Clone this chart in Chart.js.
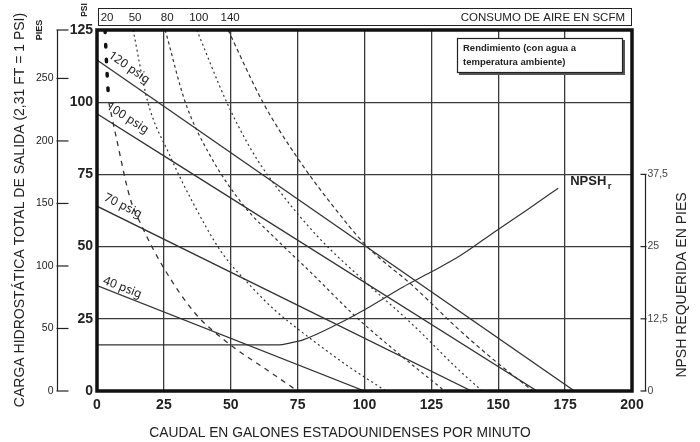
<!DOCTYPE html>
<html>
<head>
<meta charset="utf-8">
<script src="https://cdn.jsdelivr.net/npm/chart.js@4.4.1/dist/chart.umd.min.js"></script>
<style>
  html, body { margin: 0; padding: 0; background: #fff; }
  #wrap { width: 700px; height: 442px; }
</style>
</head>
<body>
<div id="wrap"><canvas id="chart" width="700" height="442"></canvas></div>
<script>
// axis ticks
const gpmTicks = [0, 25, 50, 75, 100, 125, 150, 175, 200];
const psiTicks = [0, 25, 50, 75, 100, 125];
const feetTicks = [0, 50, 100, 150, 200, 250];
const npshTicks = [0, 12.5, 25, 37.5];

// performance lines [gpm, psi]
const psigNames = ['120 psig', '100 psig', '70 psig', '40 psig'];
const psig120 = [[0, 114.6], [178.5, 0]];
const psig100 = [[0, 96], [164.5, 0]];
const psig70 = [[0, 64], [140, 0]];
const psig40 = [[0, 36.5], [100, 0]];

// air consumption curves [gpm, psi]
const scfmNames = ['20', '50', '80', '100', '140'];
const scfm20 = [[3, 125], [3.6, 113], [4.4, 100], [6.7, 90], [12.3, 67], [16.8, 57], [24.7, 43], [36.6, 27], [49, 16.6], [64, 7], [75, 0]];
const scfm50 = [[13.5, 125], [19, 100], [27, 82], [35.4, 66], [46.6, 48], [57.8, 36], [66.5, 28], [80, 18], [94, 8.5], [108, 0]];
const scfm80 = [[25.5, 125], [33, 100], [42, 82], [55, 64], [66.5, 53], [80, 41], [97, 25.5], [114, 12], [130, 0]];
const scfm100 = [[37.3, 125], [48.5, 100], [58, 83], [68, 69.5], [83, 53], [100, 38], [118, 23], [135, 7.5], [144, 0]];
const scfm140 = [[49, 125], [62, 100], [74, 82], [87, 65.5], [101, 50], [118, 36.5], [135, 21.5], [150, 9.5], [163, 0]];

// NPSH required [gpm, ft]
const npshCurve = [[0, 8], [68, 8], [72, 8.3], [77, 8.85], [89.6, 11.5], [102, 14.6], [114.4, 18], [124.5, 20.5], [135.7, 23.4], [149.4, 27.8], [160.6, 31.3], [172.4, 35.1]];

const FT_PER_PSI = 2.31;

// font check: condensed face installed?
const probe = document.createElement('canvas').getContext('2d');
probe.font = '20px monospace';
const wMono = probe.measureText('0123456789 ABC').width;
probe.font = '20px "Liberation Sans Narrow", monospace';
const hasNarrow = probe.measureText('0123456789 ABC').width !== wMono;
const SANS = '"Liberation Sans", Arial, Helvetica, sans-serif';
const NARROW = hasNarrow ? '"Liberation Sans Narrow", ' + SANS : SANS;
const INK = '#222';
const LINE = '#333';

const pts = arr => arr.map(([x, y]) => ({ x, y }));

function line(data, opts) {
  return Object.assign({
    data: pts(data),
    showLine: true,
    pointRadius: 0,
    borderColor: LINE,
    borderWidth: 1.3,
    fill: false,
    yAxisID: 'y',
    cubicInterpolationMode: 'monotone'
  }, opts);
}

const datasets = [
  line(psig120, {}),
  line(psig100, {}),
  line(psig70, {}),
  line(psig40, {}),
  line(scfm20.slice(0, 3), { borderWidth: 3.5, borderDash: [2.5, 12], borderCapStyle: 'round', borderColor: '#111' }),
  line(scfm20.slice(2), { borderDash: [5, 5] }),
  line(scfm50, { borderDash: [2, 3], borderWidth: 1.2 }),
  line(scfm80, { borderDash: [3, 3], borderWidth: 1.2 }),
  line(scfm100, { borderDash: [2, 3], borderWidth: 1.2 }),
  line(scfm140, { borderDash: [4, 3], borderWidth: 1.2 }),
  line(npshCurve, { yAxisID: 'yN', borderWidth: 1.2 })
];

const decor = {
  id: 'decor',
  afterDraw(chart) {
    const { ctx, chartArea: a, scales } = chart;
    const x = scales.x, y = scales.y, yFt = scales.yFt, yN = scales.yN;
    ctx.save();
    ctx.fillStyle = INK;
    ctx.strokeStyle = INK;

    // heavy frame
    ctx.lineWidth = 3.5;
    ctx.strokeStyle = '#111';
    ctx.strokeRect(a.left, a.top, a.right - a.left, a.bottom - a.top);

    // air consumption header
    ctx.lineWidth = 1;
    ctx.strokeStyle = INK;
    ctx.strokeRect(a.left + 1.5, 8.5, a.right - a.left - 2, 17);
    ctx.font = '11.5px ' + SANS;
    ctx.textAlign = 'right';
    ctx.textBaseline = 'middle';
    ctx.fillText('CONSUMO DE AIRE EN SCFM', a.right - 7, 17.5);
    ctx.textAlign = 'center';
    ctx.font = '11.5px ' + SANS;
    [scfm20, scfm50, scfm80, scfm100, scfm140].forEach((c, i) => {
      ctx.fillText(scfmNames[i], x.getPixelForValue(c[0][0]) + 2, 17.5);
    });

    // small rotated unit labels
    const vtext = (txt, cx, cy, font) => {
      ctx.save();
      ctx.translate(cx, cy);
      ctx.rotate(-Math.PI / 2);
      ctx.font = font;
      ctx.textAlign = 'center';
      ctx.textBaseline = 'middle';
      ctx.fillText(txt, 0, 0);
      ctx.restore();
    };
    vtext('PSI', 85, 10, 'bold 8.5px ' + SANS);
    vtext('PIES', 39.5, 30, 'bold 9px ' + SANS);

    // outer feet axis
    const fx = 57.5;
    ctx.lineWidth = 1.2;
    ctx.beginPath();
    ctx.moveTo(fx, yFt.getPixelForValue(125 * FT_PER_PSI));
    ctx.lineTo(fx, yFt.getPixelForValue(0));
    ctx.stroke();
    ctx.font = (hasNarrow ? '12px ' : '10.5px ') + NARROW;
    ctx.textAlign = 'right';
    feetTicks.concat([125 * FT_PER_PSI]).forEach(v => {
      const py = yFt.getPixelForValue(v);
      ctx.beginPath();
      ctx.moveTo(fx - 1, py);
      ctx.lineTo(fx + 11, py);
      ctx.stroke();
      if (v <= 250) ctx.fillText(String(v), fx - 4, py);
    });

    // right NPSH axis
    const nx = 645.5;
    ctx.beginPath();
    ctx.moveTo(nx, yN.getPixelForValue(37.5));
    ctx.lineTo(nx, yN.getPixelForValue(0));
    ctx.stroke();
    ctx.textAlign = 'left';
    ctx.fillStyle = '#444';
    npshTicks.forEach(v => {
      const py = yN.getPixelForValue(v);
      ctx.beginPath();
      ctx.moveTo(nx - 5, py);
      ctx.lineTo(nx + 1, py);
      ctx.stroke();
      ctx.fillText(String(v).replace('.', ','), nx + 2, py);
    });
    ctx.fillStyle = INK;

    // axis titles
    vtext('CARGA HIDROSTÁTICA TOTAL DE SALIDA (2,31 FT = 1 PSI)', 20, 210, '14px ' + SANS);
    vtext('NPSH REQUERIDA EN PIES', 682, 285, '14px ' + SANS);
    ctx.font = '13.8px ' + SANS;
    ctx.textAlign = 'center';
    ctx.fillText('CAUDAL EN GALONES ESTADOUNIDENSES POR MINUTO', 340, 433);

    // legend box
    ctx.fillStyle = '#555';
    ctx.fillRect(459, 40, 166, 35);
    ctx.fillStyle = '#fff';
    ctx.fillRect(457, 38, 166, 35);
    ctx.strokeRect(457.5, 38.5, 165, 34);
    ctx.fillStyle = INK;
    ctx.textAlign = 'left';
    ctx.font = (hasNarrow ? 'bold 11px ' : 'bold 9.5px ') + NARROW;
    ctx.fillText('Rendimiento (con agua a', 463, 48);
    ctx.fillText('temperatura ambiente)', 463, 62);

    // psig labels along the lines
    const labelSpots = [[12, 112], [11.4, 94.5], [9.7, 64.1], [9.5, 35.8]];
    [psig120, psig100, psig70, psig40].forEach((l, i) => {
      const ang = Math.atan2(
        y.getPixelForValue(l[1][1]) - y.getPixelForValue(l[0][1]),
        x.getPixelForValue(l[1][0]) - x.getPixelForValue(l[0][0]));
      ctx.save();
      ctx.translate(x.getPixelForValue(labelSpots[i][0]), y.getPixelForValue(labelSpots[i][1]));
      ctx.rotate(ang);
      ctx.font = '12px "Noto Sans", ' + SANS;
      ctx.textAlign = 'center';
      ctx.textBaseline = 'middle';
      ctx.fillText(psigNames[i], 0, 0);
      ctx.restore();
    });

    // NPSHr label at the curve end
    const last = npshCurve[npshCurve.length - 1];
    const lx = x.getPixelForValue(last[0]) + 12;
    const ly = yN.getPixelForValue(last[1]) - 3;
    ctx.font = (hasNarrow ? 'bold 16px ' : 'bold 13px ') + NARROW;
    ctx.textBaseline = 'alphabetic';
    ctx.fillText('NPSH', lx, ly);
    const w = ctx.measureText('NPSH').width;
    ctx.font = (hasNarrow ? 'bold 11px ' : 'bold 9.5px ') + NARROW;
    ctx.fillText('r', lx + w + 1.5, ly + 4);

    ctx.restore();
  }
};

const tickFont = { family: NARROW, size: hasNarrow ? 16 : 14, weight: 'bold' };

new Chart(document.getElementById('chart'), {
  type: 'scatter',
  data: { datasets },
  options: {
    responsive: false,
    animation: false,
    events: [],
    layout: { padding: { top: 30, right: 68, left: 0, bottom: 0 } },
    plugins: { legend: { display: false }, tooltip: { enabled: false } },
    scales: {
      x: {
        type: 'linear', min: 0, max: 200,
        afterBuildTicks: s => { s.ticks = gpmTicks.map(v => ({ value: v })); },
        afterFit: s => { s.height = 51; },
        ticks: { font: tickFont, color: INK, padding: 6, maxRotation: 0, autoSkip: false },
        grid: { color: '#3a3a3a', lineWidth: 1.3, drawTicks: false },
        border: { display: false }
      },
      y: {
        type: 'linear', min: 0, max: 125,
        afterBuildTicks: s => { s.ticks = psiTicks.map(v => ({ value: v })); },
        afterFit: s => { s.width = 97; },
        ticks: { font: tickFont, color: INK, padding: 4, autoSkip: false },
        grid: { color: '#3a3a3a', lineWidth: 1.3, drawTicks: false },
        border: { display: false }
      },
      yFt: { type: 'linear', min: 0, max: 125 * FT_PER_PSI, display: false },
      yN: { type: 'linear', min: 0, max: 62.5, display: false }
    }
  },
  plugins: [decor]
});
</script>
</body>
</html>
